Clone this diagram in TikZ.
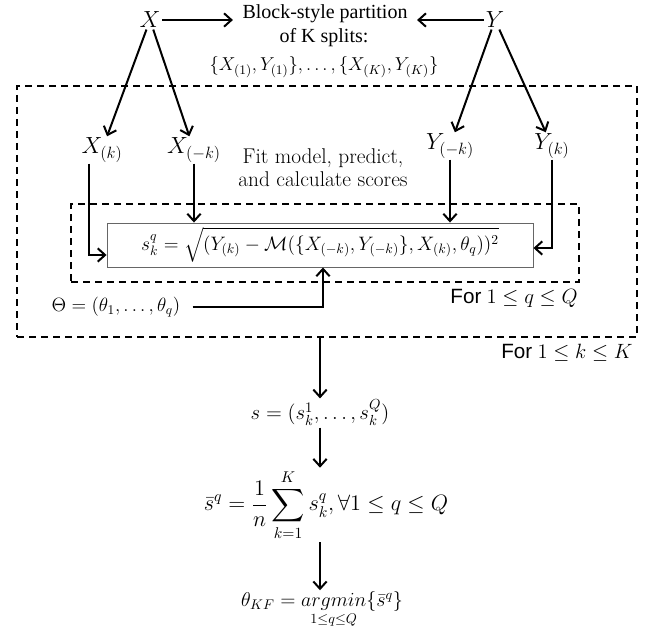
\RequirePackage{fix-cm}
\documentclass[tikz,border=0pt]{standalone}
\usepackage{amsmath}
\usepackage[no-math]{fontspec}
\setmainfont{Liberation Serif}
\newfontfamily\sansfnt{Liberation Sans}
\usetikzlibrary{arrows.meta,calc}
\begin{document}
\begin{tikzpicture}[x=0.75pt,y=-0.75pt,
  arr/.style={line width=1.5pt,-{Straight Barb[length=5.5pt,width=10pt]}},
  dbox/.style={draw,line width=1.7pt,dash pattern=on 5.25pt off 3.75pt,inner sep=0pt},
  big/.style={font=\fontsize{17.5}{21}\selectfont,inner sep=1pt},
  mth/.style={font=\fontsize{14.4}{17}\selectfont,inner sep=1pt},
  txt/.style={font=\fontsize{15}{21}\selectfont,inner sep=1pt,align=center},
  cmtxt/.style={font=\fontfamily{lmr}\fontsize{16}{17.5}\selectfont,inner sep=1pt,align=center},
  lbl/.style={font=\fontsize{15.5}{18}\selectfont,inner sep=1pt},
  fbox/.style={draw=black!60,line width=0.7pt,inner sep=0pt}]
\useasboundingbox (0,0) rectangle (656,631);

% dashed loop boxes
\node[dbox,minimum width=465pt,minimum height=188.25pt] (outer) at (327,211.5) {};
\node[dbox,minimum width=381pt,minimum height=58.5pt] (inner) at (325,243) {};
\node[fbox,minimum width=319.5pt,minimum height=33pt] (form) at (320,245)
  {\fontsize{14.6}{17}\selectfont$s_k^q = \sqrt{(Y_{(k)} - \mathcal{M}(\{X_{(-k)}, Y_{(-k)}\}, X_{(k)}, \theta_q))^2}$};

% top row
\node[big] (X) at (150,20) {$X$};
\node[big] (Y) at (495,20) {$Y$};
\node[txt] (part) at (325,14) {Block-style partition};
\node[txt,anchor=north] (partb) at (324,27) {of K splits:\\[0pt] \fontsize{14}{17}\selectfont$\{X_{(1)}, Y_{(1)}\}, \ldots, \{X_{(K)}, Y_{(K)}\}$};

% split nodes
\node[big] (Xk) at (102,150) {$X_{(k)}$};
\node[big] (Xmk) at (194,150) {$X_{(-k)}$};
\node[big] (Ymk) at (450,146) {$Y_{(-k)}$};
\node[big] (Yk) at (552,146) {$Y_{(k)}$};
\node[cmtxt] (fit) at (323,168) {Fit model, predict,\\and calculate scores};

% parameters
\node[mth] (theta) at (116,307) {$\Theta = (\theta_1, \ldots, \theta_q)$};
\node[lbl] (qlab) at (514,298) {{\sansfnt For} $1 \le q \le Q$};
\node[lbl] (klab) at (567,353) {{\sansfnt For} $1 \le k \le K$};

% lower chain
\node[mth,font=\fontsize{15.6}{18}\selectfont] (s) at (320,413) {$s = (s_k^1, \ldots, s_k^Q)$};
\node[mth,font=\fontsize{16.7}{20}\selectfont] (sbar) at (326,505) {$\displaystyle \bar{s}^q = \frac{1}{n}\sum_{k=1}^{K} s_k^q, \forall 1 \le q \le Q$};
\node[mth,font=\fontsize{15}{18}\selectfont] (tkf) at (322,610) {$\theta_{KF} = \mathop{argmin}\limits_{1 \le q \le Q}\{\bar{s}^q\}$};

% connectors
\draw[arr,shorten >=6pt] (X.east) -- (X.east -| part.west);
\draw[arr,shorten >=6pt] (Y.west) -- (Y.west -| part.east);
\draw[arr] (X) -- (Xk);
\draw[arr] (X) -- (Xmk);
\draw[arr] (Y) -- (Ymk);
\draw[arr] (Y) -- (Yk);
\draw[arr] ([xshift=-9.75pt]Xk.south) |- ([yshift=-7.5pt]form.west);
\draw[arr] (Xmk.south) -- (Xmk.south |- form.north);
\draw[arr] (Ymk.south) -- (Ymk.south |- form.north);
\draw[arr] (Yk.south) |- ([yshift=-2.25pt]form.east);
\draw[arr] ([xshift=8pt]theta.east) -| ([xshift=2.25pt]form.south);
\draw[arr] (s.north |- outer.south) -- (s.north);
\draw[arr] (s.south) -- (s.south |- sbar.north);
\draw[arr] (s.south |- sbar.south) -- (s.south |- tkf.north);
\end{tikzpicture}
\end{document}
